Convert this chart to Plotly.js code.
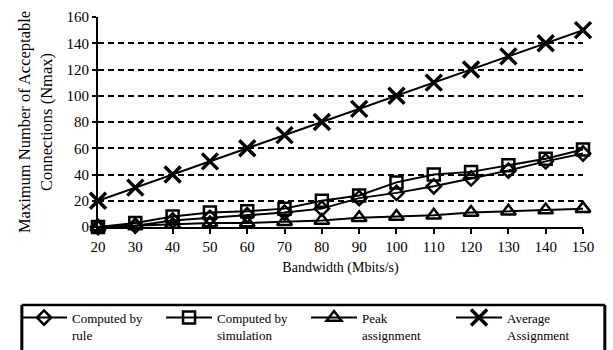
<!DOCTYPE html>
<html>
<head>
<meta charset="utf-8">
<script src="https://cdn.plot.ly/plotly-3.0.1.min.js"></script>
<style>html,body{margin:0;padding:0;background:#fff;}#chart{width:613px;height:350px;}</style>
</head>
<body>
<div id="chart"></div>
<script>
const bandwidth = ["20","30","40","50","60","70","80","90","100","110","120","130","140","150"];
const computedByRule = [0, 1, 5, 7, 9, 11, 14, 22, 26, 31, 37, 43, 50, 56];
const computedBySimulation = [0, 3, 8, 11, 12, 14, 20, 24, 34, 40, 42, 47, 52, 59];
const peakAssignment = [0, 1, 2, 3, 3, 4, 5, 7, 8, 9, 11, 12, 13, 14];
const averageAssignment = [20, 30, 40, 50, 60, 70, 80, 90, 100, 110, 120, 130, 140, 150];

const seriesNames = ["Computed by<br>rule", "Computed by<br>simulation", "Peak<br>assignment", "Average<br>Assignment"];
const seriesValues = [computedByRule, computedBySimulation, peakAssignment, averageAssignment];
const symbols = ["diamond-open", "square-open", "triangle-up-open", "x-thin-open"];
const sizes = [11, 12, 13, 16];
const markerLineWidths = [2.5, 2.5, 2.5, 3.5];

const traces = seriesValues.map((v, i) => ({
  x: bandwidth, y: v, name: seriesNames[i], type: 'scatter', mode: 'lines+markers',
  line: {color: '#000', width: 2},
  marker: {symbol: symbols[i], size: sizes[i], color: '#000', line: {color: '#000', width: markerLineWidths[i]}},
  cliponaxis: false
}));

const serif = 'Liberation Serif, Times New Roman, serif';
const tickFont = {family: serif, color: '#000', size: 15};

const layout = {
  width: 613, height: 350,
  margin: {l: 98, r: 30, t: 17, b: 123, autoexpand: false},
  paper_bgcolor: '#fff', plot_bgcolor: '#fff',
  font: {family: serif, color: '#000', size: 13},
  showlegend: true,
  xaxis: {
    type: 'category', range: [0, 13],
    showgrid: false, zeroline: false,
    showline: true, linecolor: '#000', linewidth: 2,
    ticks: 'outside', ticklen: 5, tickwidth: 2, tickcolor: '#000',
    tickfont: tickFont,
    title: {text: 'Bandwidth (Mbits/s)', font: {family: serif, color: '#000', size: 14}, standoff: 8}
  },
  yaxis: {
    range: [0, 160], tickvals: [0,20,40,60,80,100,120,140,160],
    showgrid: true, gridcolor: '#000', gridwidth: 2, griddash: '6px,4px',
    zeroline: false, showline: true, linecolor: '#000', linewidth: 2,
    ticks: 'outside', ticklen: 4, tickwidth: 2, tickcolor: '#000',
    tickfont: tickFont,
    title: {text: 'Maximum Number of Acceptable<br>Connections (Nmax)', font: {family: serif, color: '#000', size: 16.5}, standoff: 10}
  },
  legend: {
    orientation: 'h', xref: 'paper', yref: 'paper',
    x: -0.169, xanchor: 'left', y: -0.36, yanchor: 'top', valign: 'top',
    font: {family: serif, color: '#000', size: 13}, itemwidth: 46,
    entrywidth: 84, entrywidthmode: 'pixels',
    bgcolor: 'rgba(0,0,0,0)', borderwidth: 0, tracegroupgap: 0
  },
  shapes: [
    {type: 'line', xref: 'paper', yref: 'paper', x0: -0.157, x1: 1.045, y0: -0.371, y1: -0.371, line: {color: '#000', width: 2.5}},
    {type: 'line', xref: 'paper', yref: 'paper', x0: -0.157, x1: -0.157, y0: -0.371, y1: -0.7, line: {color: '#000', width: 3}},
    {type: 'line', xref: 'paper', yref: 'paper', x0: 1.045, x1: 1.045, y0: -0.371, y1: -0.7, line: {color: '#000', width: 3}}
  ]
};

Plotly.newPlot('chart', traces, layout, {displayModeBar: false, staticPlot: true});
</script>
</body>
</html>
